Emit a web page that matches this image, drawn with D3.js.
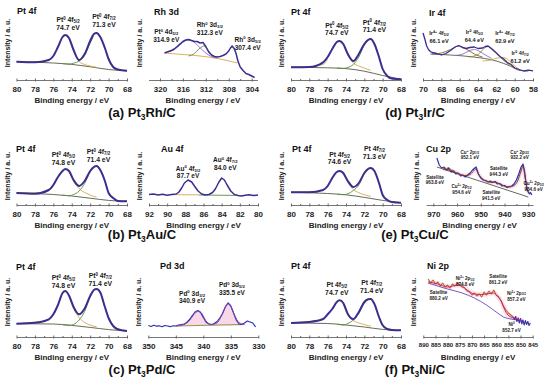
<!DOCTYPE html>
<html>
<head>
<meta charset="utf-8">
<script src="https://cdn.jsdelivr.net/npm/d3@7"></script>
<style>
body { margin: 0; background: #fff; }
svg { display: block; font-family: Arial, "Liberation Sans", sans-serif; }
</style>
</head>
<body>
<div id="chart"></div>
<script>
// ---------- Pt 4f (shared energy grid, eV) ----------
const ptEnergy = [80, 78, 76.5, 76, 75.5, 75, 74.7, 74.3, 73.8, 73.2, 72.6, 72, 71.6, 71.3, 70.9, 70.4, 70, 69.5, 69, 68];
const ptBgEnergy = [80, 76, 74, 72, 70, 68];
const ptTicks = [80, 78, 76, 74, 72, 70, 68];
const ptMinor = [79, 77, 75, 73, 71, 69];

// (a) Pt3Rh/C
const ptRhEnv   = [18.3, 17.7, 20, 24, 33, 43, 45, 42, 30, 20, 26, 39, 46, 47, 43, 32, 21, 13, 10.5, 9.3];
const ptRhBg    = [18.3, 17, 15.6, 13.2, 10.5, 9.2];
const ptRhTan   = [18.6, 18.4, 20, 23.5, null, null, null, 41.5, 29, 18.5, 15.5, 14, 13.2, 12.8, null, null, null, null, null, null];
const ptRhGreen = [null, null, null, null, null, 16.3, 16.1, 15.9, 16.8, 19, 24.5, 37, 44.5, null, null, null, null, null, null, null];
// (d) Pt3Ir/C
const ptIrEnv   = [12.7, 13, 17.7, 23, 31, 38, 39, 36, 26, 19, 26, 36, 40, 41, 36, 23, 11, 4, 1.5, 0.8];
const ptIrBg    = [12.7, 12.2, 11.4, 8.8, 4.5, 0.8];
const ptIrTan   = [13, 13.4, 15.5, 21, null, null, null, 35.5, 25, 17, 14, 12, 10.5, 9.8, null, null, null, null, null, null];
const ptIrGreen = [null, null, null, null, null, 11.9, 11.8, 11.6, 12.5, 15.5, 23, 35, 39.5, null, null, null, null, null, null, null];
// (b) Pt3Au/C
const ptAuEnv   = [12, 11.3, 15, 20, 28, 34, 36, 34, 25, 19, 24, 34, 38, 39, 35, 24, 12, 7, 4, 3.7];
const ptAuBg    = [12, 10.5, 9, 6.8, 4.6, 3.7];
const ptAuTan   = [12.2, 12.3, 14.5, 19.5, null, null, null, 33.5, 23.5, 16.5, 12.5, 10, 8.5, 8, null, null, null, null, null, null];
const ptAuGreen = [null, null, null, null, null, 9.8, 9.6, 9.3, 10.5, 14, 21.5, 33, 37.5, null, null, null, null, null, null, null];
// (e) Pt3Cu/C
const ptCuEnv   = [12.7, 12.7, 15, 19, 27, 33, 34, 32, 24, 18, 22, 32, 36, 37, 34, 22, 10, 5, 3, 2.3];
const ptCuBg    = [12.7, 11.5, 10.2, 7.6, 4.6, 2.3];
const ptCuTan   = [12.9, 13.2, 14.7, 18.5, null, null, null, 31.5, 22.5, 15.5, 12.3, 10.3, 9.2, 8.7, null, null, null, null, null, null];
const ptCuGreen = [null, null, null, null, null, 10.6, 10.5, 10.3, 11.2, 14.5, 20, 31, 35.5, null, null, null, null, null, null, null];
// (c) Pt3Pd/C
const ptPdEnv   = [13.3, 14.3, 17.7, 22.7, 32, 44, 46, 41.5, 30, 22.7, 28.5, 41, 47, 48, 44.5, 30, 19, 11, 7.7, 6];
const ptPdBg    = [13.3, 13, 11.6, 9.6, 7.4, 6];
const ptPdTan   = [13.5, 14.8, 17, 21.5, null, null, null, 40.5, 28.5, 19.5, 14.5, 12, 10.8, 10.3, null, null, null, null, null, null];
const ptPdGreen = [null, null, null, null, null, 12.1, 11.9, 11.6, 12.6, 17, 25.5, 40, 46, null, null, null, null, null, null, null];
// (f) Pt3Ni/C
const ptNiEnv   = [14, 15, 18, 22.7, 28, 35, 36.7, 34, 23, 18, 25, 35, 37.7, 38, 33, 20, 11.7, 8, 7, 6.7];
const ptNiBg    = [14, 13.5, 12, 10, 7.6, 6.7];
const ptNiTan   = [14.3, 15.4, 17.5, 21.5, null, null, null, 33, 22, 16.5, 14, 12.5, 11.3, 11, null, null, null, null, null, null];
const ptNiGreen = [null, null, null, null, null, 12.6, 12.4, 12, 13.5, 17, 23.5, 34, 37, null, null, null, null, null, null, null];

// ---------- Rh 3d ----------
const rhEnergy = [319.2, 318.5, 318, 317.5, 317, 316.5, 316, 315.5, 315, 314.5, 314, 313.5, 313, 312.5, 312, 311.5, 311, 310.5, 310, 309.5, 309, 308.5, 308, 307.7, 307.4, 307, 306.7, 306.4, 306, 305.5, 305, 304.5, 304, 303.5];
const rhRaw    = [27, 28.5, 29.5, 31, 33.5, 36, 38.5, 40, 40.5, 39.5, 38.5, 38.5, 37, 37.5, 33.5, 28, 25, 23.5, 23, 23.5, 24.5, 26, 29, 32, 34, 31, 26, 19, 13, 9.5, 6.5, 5.5, 4, 2.5];
const rhPtEnergy = [318.5, 317.5, 316.5, 315.5, 314.9, 314.2, 313.5, 312.8, 312, 311.2, 310.5];
const rhPtComp   = [28, 30.5, 35, 39.5, 40, 38.5, 35, 31, 27, 24, 22.5];
const rhRhEnergy = [315, 314, 313.2, 312.6, 312.3, 312, 311.5, 311, 310.5, 310];
const rhRhComp   = [24, 26.5, 31, 33.5, 34, 33, 29, 25.5, 23, 22];
const rhBgEnergy = [319.2, 316, 313, 310, 308.3, 306.5];
const rhBg       = [27, 25.5, 24, 21.5, 19.5, 17];
const rhTicks = [320, 316, 312, 308, 304];
const rhMinor = [318, 314, 310, 306];

// ---------- Ir 4f ----------
const irEnergy = [70, 69.8, 69.6, 69.4, 69.2, 69, 68.5, 68, 67.5, 67, 66.5, 66.1, 65.7, 65.3, 64.9, 64.4, 64, 63.5, 63.2, 62.9, 62.5, 62, 61.6, 61.2, 60.8, 60.4, 60, 59.5, 59, 58.5, 58];
const irRaw    = [47, 41, 34, 30.5, 28.5, 27.5, 26.5, 25, 26.5, 29.5, 33, 34.5, 32.5, 31.5, 32.5, 33, 31.5, 32, 33.5, 34, 31, 27, 23.5, 21, 17.5, 15.5, 12, 10.5, 9, 9.8, 9.2];
const irBgEnergy = [69.2, 67, 64.5, 62, 60.5, 59.4, 58.5];
const irBg       = [26, 25, 23, 19, 14, 9.5, 9];
const ir4p52Energy = [69, 68, 67, 66.1, 65.2, 64.3, 63.5];
const ir4p52       = [26, 27, 30.5, 34, 30.5, 25.5, 23];
const ir0p52Energy = [66.5, 65.5, 64.9, 64.4, 63.9, 63.2, 62.5];
const ir0p52       = [24.5, 26.5, 29.5, 30.5, 29, 25, 21.5];
const ir4p72Energy = [65, 64, 63.4, 62.9, 62.4, 61.5, 60.5];
const ir4p72       = [23, 25.5, 31, 33.5, 31, 22, 14.5];
const ir0p72Energy = [63.5, 62.6, 61.9, 61.2, 60.6, 60, 59.5];
const ir0p72       = [19, 20, 22, 22.5, 19.5, 14, 10.5];
const irTicks = [70, 68, 66, 64, 62, 60, 58];
const irMinor = [69, 67, 65, 63, 61, 59];

// ---------- Au 4f ----------
const auEnergy = [92, 91.5, 91, 90.5, 90, 89.5, 89, 88.7, 88.4, 88.1, 87.7, 87.3, 87, 86.6, 86.2, 85.8, 85.4, 85, 84.7, 84.3, 84, 83.7, 83.4, 83, 82.6, 82.2, 81.8, 81.4, 81, 80.5, 80];
const auRaw    = [10.5, 11, 10, 10.8, 9.8, 10.5, 11, 13, 17, 22, 25, 23, 19, 14, 11, 10, 10.5, 12.5, 16, 23, 27, 25, 20, 14, 10.5, 9.5, 9, 9.8, 10.3, 9.5, 10];
const auTanEnergy = [89.5, 86.5];
const auTan       = [10.4, 10.1];
const auOliveEnergy = [86.5, 82.5];
const auOlive       = [10, 9.6];
const auTicks = [92, 90, 88, 86, 84, 82, 80];
const auMinor = [91, 89, 87, 85, 83, 81];

// ---------- Cu 2p ----------
const cuEnergy = [968.5, 967.5, 966.5, 965.5, 964.5, 963.5, 962.5, 961.5, 960.5, 959.5, 958.5, 957.5, 956.5, 955.5, 954.5, 953.5, 952.5, 952, 951, 950, 949, 948, 947, 946, 945, 944, 943, 942, 941, 940, 939, 938, 937, 936, 935, 934, 933, 932.2, 931.5, 931, 930.5, 930, 929.5, 929, 928.5];
const cuRaw    = [47, 40, 37, 38, 35, 37, 33, 34, 31, 32, 29, 30, 28, 30, 32, 35, 37, 38, 31, 27, 25, 24.5, 23, 24, 22.5, 23.5, 21, 21.5, 19, 19.5, 17.5, 18.5, 19, 21, 25, 31, 38, 41, 33, 23, 16, 13, 11, 12.5, 10];
const cuFitEnergy = [966, 963, 960, 957, 955, 953, 952.1, 951, 949, 947, 945, 944, 942, 940, 938, 936, 934.5, 933, 932.2, 931.5, 930.5, 929.5];
const cuFit       = [36, 35, 32, 29.5, 30, 34, 36, 31, 25.5, 23.5, 22.5, 23, 21, 19, 18, 19.5, 24, 34, 39, 30, 16, 12];
const cuBgEnergy = [968.5, 930];
const cuBg       = [38, 8];
const cuSatAEnergy = [967, 965, 963.8, 962.5, 961];
const cuSatA       = [37.2, 36.5, 37.3, 35.5, 34];
const cuSatBEnergy = [947, 945.5, 944.3, 943, 941.5, 940, 938.5];
const cuSatB       = [22, 22.8, 23.5, 22, 20.8, 19, 17.2];
const cuTicks = [970, 960, 950, 940, 930];
const cuMinor = [965, 955, 945, 935];

// ---------- Pd 3d ----------
const pdEnergy = [350, 349.5, 349, 348.5, 348, 347.5, 347, 346.5, 346, 345.5, 345, 344.5, 344, 343.5, 343, 342.5, 342, 341.5, 341, 340.5, 340, 339.5, 339, 338.5, 338, 337.5, 337, 336.5, 336, 335.5, 335, 334.5, 334, 333.5, 333, 332.5, 332, 331.5, 331, 330.5];
const pdRaw    = [11.5, 10.5, 11.8, 10.8, 11.2, 10.2, 11.5, 11, 10.3, 11.2, 11, 12, 12.3, 13, 14.5, 17.5, 21.5, 25, 26.5, 24.5, 19.5, 15, 13, 12.5, 13.5, 15.5, 19, 23.5, 30, 34, 31, 24, 17, 13, 12.5, 14, 16, 15, 14, 10];
const pdFitEnergy = [345, 343.5, 342.5, 341.7, 340.9, 340.2, 339.5, 338.5, 337.5, 336.7, 336, 335.5, 335, 334.3, 333.5, 332.5];
const pdFit       = [11, 12.5, 16.5, 22.5, 26, 23, 16, 12.5, 14, 21, 30, 34, 31, 21.5, 14.5, 12.5];
const pdBgEnergy = [345, 333];
const pdBg       = [11, 12.5];
const pdTicks = [350, 345, 340, 335, 330];

// ---------- Ni 2p ----------
const niEnergy = [888, 887, 886, 885, 884, 883, 882, 881, 880, 879, 878, 877, 876, 875, 874, 873, 872, 871, 870, 869, 868, 867, 866, 865, 864, 863, 862, 861, 860, 859, 858, 857, 856, 855, 854, 853];
const niRaw    = [58, 54, 57, 53, 55, 51, 54, 50, 52, 49, 53, 51, 54, 52, 50, 49, 46, 45, 42, 44, 41, 43, 40, 45, 42, 46, 43, 47, 42, 40, 36, 31, 27, 24, 22, 20];
const niLowEnergy = [853, 852.5, 852, 851.5, 851, 850.5, 850, 849.5, 849, 848.5, 848, 847.5, 847, 846.5, 846];
const niLow       = [20, 17.5, 20.5, 15.5, 19, 14, 18.5, 13, 17, 12, 16.5, 12.5, 15.5, 11.5, 14];
const niFitEnergy = [888, 884, 880, 877, 874.8, 872, 869, 866, 863, 861.2, 859.5, 858, 857, 855.5, 854, 852.7, 851, 849];
const niFit       = [55, 53, 50, 51.5, 52, 47, 43, 42.5, 43.5, 44, 41, 36, 30, 23, 20, 19, 17.5, 16];
const niBgEnergy = [888, 880, 874, 869, 864, 860, 857, 854, 851, 849];
const niBg       = [54, 48, 44, 39, 32, 25, 20, 18, 17, 16];
const niTicks = [890, 885, 880, 875, 870, 865, 860, 855, 850, 845];

// ---------- text ----------
const captionText = ["(a) Pt_{3}Rh/C", "(d) Pt_{3}Ir/C", "(b) Pt_{3}Au/C", "(e) Pt_{3}Cu/C", "(c) Pt_{3}Pd/C", "(f) Pt_{3}Ni/C"];
const ptRhLabels = [["Pt^{0} 4f_{5/2}", "74.7 eV"], ["Pt^{0} 4f_{7/2}", "71.3 eV"]];
const ptIrLabels = [["Pt^{0} 4f_{5/2}", "74.7 eV"], ["Pt^{0} 4f_{7/2}", "71.4 eV"]];
const ptAuLabels = [["Pt^{0} 4f_{5/2}", "74.8 eV"], ["Pt^{0} 4f_{7/2}", "71.4 eV"]];
const ptCuLabels = [["Pt 4f_{5/2}", "74.6 eV"], ["Pt 4f_{7/2}", "71.3 eV"]];
const ptPdLabels = [["Pt^{0} 4f_{5/2}", "74.8 eV"], ["Pt^{0} 4f_{7/2}", "71.4 eV"]];
const ptNiLabels = [["Pt 4f_{5/2}", "74.7 eV"], ["Pt 4f_{7/2}", "71.4 eV"]];
const rhLabels = [["Pt^{0} 4d_{5/2}", "314.9 eV"], ["Rh^{0} 3d_{3/2}", "312.3 eV"], ["Rh^{0} 3d_{5/2}", "307.4 eV"]];
const irLabels = [["Ir^{4+} 4f_{5/2}", "66.1 eV"], ["Ir^{0} 4f_{5/2}", "64.4 eV"], ["Ir^{4+} 4f_{7/2}", "62.9 eV"], ["Ir^{0} 4f_{7/2}", "61.2 eV"]];
const auLabels = [["Au^{0} 4f_{5/2}", "87.7 eV"], ["Au^{0} 4f_{7/2}", "84.0 eV"]];
const cuLabels = [["Cu^{+} 2p_{1/2}", "952.1 eV"], ["Cu^{+} 2p_{3/2}", "932.2 eV"], ["Satellite", "963.8 eV"], ["Cu^{2+} 2p_{1/2}", "954.6 eV"], ["Satellite", "944.3 eV"], ["Satellite", "941.5 eV"], ["Cu^{2+} 2p_{3/2}", "934.6 eV"]];
const pdLabels = [["Pd^{0} 3d_{3/2}", "340.9 eV"], ["Pd^{0} 3d_{5/2}", "335.5 eV"]];
const niLabels = [["Ni^{2+} 2p_{1/2}", "874.8 eV"], ["Satellite", "861.2 eV"], ["Satellite", "880.2 eV"], ["Ni^{2+} 2p_{3/2}", "857.2 eV"], ["Ni^{0}", "852.7 eV"]];

// ---------- colours ----------
const C = {
    env: "#3a2f8e", raw: "#2c33b0", tan: "#d9a64c", green: "#5e8c45", bg: "#535b45",
    purple: "#8f6bd0", brown: "#8b5a2b", olive: "#8d8a2c", fit: "#7a3b2e",
    orange: "#e0913a", magenta: "#c8245e", pink: "#f4b6d2", violet: "#7a55c0"
};

const svg = d3.select("#chart").append("svg").attr("width", 550).attr("height", 381);

// "Pt^{0} 4f_{5/2}" -> tspans with raised / lowered small parts
function richText(sel, str, fs){
    const re = /([_^])\{([^}]*)\}/g;
    let last = 0, m, off = 0;
    const add = (t, size, shift) => {
        const ts = sel.append("tspan").text(t);
        if (size) ts.attr("font-size", size);
        const dy = shift - off;
        if (dy) ts.attr("dy", dy);
        off = shift;
    };
    while ((m = re.exec(str))) {
        if (m.index > last) add(str.slice(last, m.index), null, 0);
        add(m[2], fs * 0.65, m[1] === "^" ? -fs * 0.36 : fs * 0.2);
        last = re.lastIndex;
    }
    if (last < str.length) add(str.slice(last), null, 0);
}

function ptLayers(env, bg, tan, green){
    return [
        {e: ptBgEnergy, v: bg, color: C.bg, w: 0.9, smooth: true},
        {e: ptEnergy, v: tan, color: C.tan, w: 0.9, smooth: true},
        {e: ptEnergy, v: green, color: C.green, w: 0.9, smooth: true},
        {e: ptEnergy, v: env, color: C.env, w: 2, smooth: true}
    ];
}

const L = 16.5, R = 291;   // left edges of the Pt panels
const panels = [
    // row 1
    {axisY: 80, range: [L, 127], domain: [80, 68], ticks: ptTicks, minor: ptMinor, title: "Pt 4f", titleX: 17, titleY: 14, yLab: 43,
     layers: ptLayers(ptRhEnv, ptRhBg, ptRhTan, ptRhGreen), labels: ptRhLabels, at: [[74.4, 58], [70.5, 61]], lfs: 6.8, gap: 8},
    {axisY: 80, range: [148.5, 257.4], domain: [322, 303], ticks: rhTicks, minor: rhMinor, title: "Rh 3d", titleX: 154, titleY: 15, yLab: 43,
     layers: [
        {e: rhBgEnergy, v: rhBg, color: C.tan, w: 0.9, smooth: true},
        {e: rhRhEnergy, v: rhRhComp, color: C.green, w: 0.9, smooth: true},
        {e: rhPtEnergy, v: rhPtComp, color: C.purple, w: 0.9, smooth: true},
        {e: rhEnergy, v: rhRaw, color: C.env, w: 1.5}
     ], labels: rhLabels, at: [[318.9, 46], [311.3, 53], [304.7, 38.5]], lfs: 6.5, gap: 8},
    {axisY: 80, range: [R, 401], domain: [80, 68], ticks: ptTicks, minor: ptMinor, title: "Pt 4f", titleX: 291, titleY: 15, yLab: 43,
     layers: ptLayers(ptIrEnv, ptIrBg, ptIrTan, ptIrGreen), labels: ptIrLabels, at: [[75.0, 52.5], [70.9, 55.5]], lfs: 6.8, gap: 7.5},
    {axisY: 80, range: [423, 533], domain: [70, 58], ticks: irTicks, minor: irMinor, title: "Ir 4f", titleX: 429, titleY: 16, yLab: 43,
     layers: [
        {e: irBgEnergy, v: irBg, color: C.bg, w: 0.9, smooth: true},
        {e: ir4p52Energy, v: ir4p52, color: C.brown, w: 0.9, smooth: true},
        {e: ir0p52Energy, v: ir0p52, color: C.purple, w: 0.9, smooth: true},
        {e: ir4p72Energy, v: ir4p72, color: C.olive, w: 0.9, smooth: true},
        {e: ir0p72Energy, v: ir0p72, color: C.tan, w: 0.9, smooth: true},
        {e: irEnergy, v: irRaw, color: C.env, w: 1.3}
     ], labels: irLabels, at: [[68.25, 45], [64.4, 46], [61.06, 45], [59.4, 25]], lfs: 5.6, gap: 8},
    // row 2
    {axisY: 205, range: [L, 127], domain: [80, 68], ticks: ptTicks, minor: ptMinor, title: "Pt 4f", titleX: 16, titleY: 151.5, yLab: 176,
     layers: ptLayers(ptAuEnv, ptAuBg, ptAuTan, ptAuGreen), labels: ptAuLabels, at: [[74.9, 48], [71.1, 51]], lfs: 6.8, gap: 7.5},
    {axisY: 205, range: [149, 258], domain: [92, 80], ticks: auTicks, minor: auMinor, title: "Au 4f", titleX: 161, titleY: 151.5, yLab: 176,
     layers: [
        {e: auTanEnergy, v: auTan, color: C.tan, w: 0.9},
        {e: auOliveEnergy, v: auOlive, color: C.green, w: 0.9},
        {e: auEnergy, v: auRaw, color: C.env, w: 1.5}
     ], labels: auLabels, at: [[87.7, 34.5], [83.6, 43]], lfs: 6.5, gap: 7.5},
    {axisY: 205, range: [R, 401], domain: [80, 68], ticks: ptTicks, minor: ptMinor, title: "Pt 4f", titleX: 292, titleY: 151.5, yLab: 176,
     layers: ptLayers(ptCuEnv, ptCuBg, ptCuTan, ptCuGreen), labels: ptCuLabels, at: [[74.7, 48.5], [70.9, 54]], lfs: 6.8, gap: 7.5},
    {axisY: 205, range: [426.2, 533], domain: [973, 928], ticks: cuTicks, minor: cuMinor, title: "Cu 2p", titleX: 426, titleY: 151.5, yLab: 176,
     layers: [
        {e: cuFitEnergy, v: cuFit, color: C.pink, w: 4, op: 0.45, smooth: true},
        {e: cuBgEnergy, v: cuBg, color: C.bg, w: 0.9},
        {e: cuSatAEnergy, v: cuSatA, color: C.orange, w: 0.9, smooth: true},
        {e: cuSatBEnergy, v: cuSatB, color: C.orange, w: 0.9, smooth: true},
        {e: cuEnergy, v: cuRaw, color: C.raw, w: 1.2},
        {e: cuFitEnergy, v: cuFit, color: C.fit, w: 1, smooth: true}
     ], labels: cuLabels, at: [[954.6, 51.5], [933.6, 51.5], [969.3, 26.5], [958.1, 17], [942.4, 35], [945.6, 11], [927.7, 20]], lfs: 4.6, gap: 5.7},
    // row 3
    {axisY: 337, range: [L, 127], domain: [80, 68], ticks: ptTicks, minor: ptMinor, title: "Pt 4f", titleX: 16, titleY: 270, yLab: 302,
     layers: ptLayers(ptPdEnv, ptPdBg, ptPdTan, ptPdGreen), labels: ptPdLabels, at: [[74.9, 57], [70.9, 59]], lfs: 6.8, gap: 7.5},
    {axisY: 337, range: [148.3, 258.3], domain: [350, 330], ticks: pdTicks, minor: [], title: "Pd 3d", titleX: 160, titleY: 268.5, yLab: 302,
     layers: [
        {e: pdFitEnergy, v: pdFit, fill: "#f8d7e8", base: 11.5, smooth: true},
        {e: pdBgEnergy, v: pdBg, color: C.olive, w: 0.9},
        {e: pdEnergy, v: pdRaw, color: C.raw, w: 1.2},
        {e: pdFitEnergy, v: pdFit, color: "#8a3fa8", w: 0.9, smooth: true}
     ], labels: pdLabels, at: [[342.05, 41.5], [334.8, 50]], lfs: 6.5, gap: 7.5},
    {axisY: 337, range: [R, 401], domain: [80, 68], ticks: ptTicks, minor: ptMinor, title: "Pt 4f", titleX: 291, titleY: 268.5, yLab: 302,
     layers: ptLayers(ptNiEnv, ptNiBg, ptNiTan, ptNiGreen), labels: ptNiLabels, at: [[75.0, 50], [71.2, 52]], lfs: 6.8, gap: 8},
    {axisY: 337, range: [423.3, 532.7], domain: [890, 845], ticks: niTicks, minor: [], tfs: 6, title: "Ni 2p", titleX: 427, titleY: 268.5, yLab: 302,
     layers: [
        {e: niFitEnergy, v: niFit, color: C.pink, w: 5, op: 0.4, smooth: true},
        {e: niBgEnergy, v: niBg, color: C.violet, w: 1, smooth: true},
        {e: niEnergy, v: niRaw, color: "#b8692a", w: 1.1},
        {e: niLowEnergy, v: niLow, color: C.raw, w: 1.1},
        {e: niFitEnergy, v: niFit, color: C.magenta, w: 1, smooth: true}
     ], labels: niLabels, at: [[872.8, 57], [859.2, 59], [883.7, 43.5], [851.7, 42.5], [853.7, 11]], lfs: 4.6, gap: 6}
];

function drawPanel(p){
    const x = d3.scaleLinear().domain(p.domain).range(p.range);
    const y = d3.scaleLinear().domain([0, 60]).range([p.axisY, p.axisY - 60]);
    const g = svg.append("g");

    p.layers.forEach(s => {
        const pts = s.e.map((e, i) => [e, s.v[i]]);
        const curve = s.smooth ? d3.curveMonotoneX : d3.curveLinear;
        if (s.fill) {
            const area = d3.area().x(d => x(d[0])).y0(y(s.base)).y1(d => y(d[1])).curve(curve);
            g.append("path").datum(pts).attr("d", area).attr("fill", s.fill);
            return;
        }
        const line = d3.line().defined(d => d[1] != null).x(d => x(d[0])).y(d => y(d[1])).curve(curve);
        g.append("path").datum(pts).attr("d", line)
            .attr("fill", "none").attr("stroke", s.color).attr("stroke-width", s.w)
            .attr("stroke-opacity", s.op || 1).attr("stroke-linejoin", "round");
    });

    // x axis
    const axisG = g.append("g").attr("transform", `translate(0,${p.axisY})`)
        .call(d3.axisBottom(x).tickValues(p.ticks).tickSizeInner(3).tickSizeOuter(0).tickPadding(2).tickFormat(d3.format("d")));
    axisG.select(".domain").attr("stroke", "#666").attr("stroke-width", 0.9);
    axisG.selectAll(".tick line").attr("y1", -1.5).attr("y2", 1.5).attr("stroke", "#666");
    axisG.selectAll(".tick text").attr("y", 6).attr("fill", "#222")
        .attr("font-size", p.tfs || 8).attr("font-weight", "bold").attr("font-family", "Arial, sans-serif");
    if (p.minor.length) {
        const minorG = g.append("g").attr("transform", `translate(0,${p.axisY})`)
            .call(d3.axisBottom(x).tickValues(p.minor).tickSize(2).tickFormat(""));
        minorG.select(".domain").remove();
        minorG.selectAll(".tick line").attr("y1", -1).attr("y2", 1).attr("stroke", "#666");
    }

    g.append("text").attr("x", (p.range[0] + p.range[1]) / 2).attr("y", p.axisY + 23)
        .attr("text-anchor", "middle").attr("font-size", 8).attr("font-weight", "bold").attr("fill", "#222")
        .text("Binding energy / eV");

    g.append("text").attr("transform", `translate(${p.range[0] - 7},${p.yLab}) rotate(-90)`)
        .attr("text-anchor", "middle").attr("font-size", 7).attr("font-weight", "bold").attr("fill", "#222")
        .text("Intensity / a. u.");

    g.append("text").attr("x", p.titleX).attr("y", p.titleY)
        .attr("font-size", 9).attr("font-weight", "bold").attr("fill", "#111").text(p.title);

    p.labels.forEach((lab, i) => {
        const [e, h] = p.at[i];
        lab.forEach((t, j) => {
            const txt = g.append("text").attr("x", x(e)).attr("y", y(h) + j * p.gap)
                .attr("text-anchor", "middle").attr("font-size", p.lfs)
                .attr("font-weight", "bold").attr("fill", "#1a1a1a");
            richText(txt, t, p.lfs);
        });
    });
}

panels.forEach(drawPanel);

// captions under each pair of panels
const captionPos = [[142, 117], [415, 117], [142, 239], [415, 239], [142, 374], [415, 374]];
captionText.forEach((t, i) => {
    const txt = svg.append("text").attr("x", captionPos[i][0]).attr("y", captionPos[i][1])
        .attr("text-anchor", "middle").attr("font-size", 13).attr("font-weight", "bold").attr("fill", "#111");
    richText(txt, t, 13);
});
</script>
</body>
</html>
